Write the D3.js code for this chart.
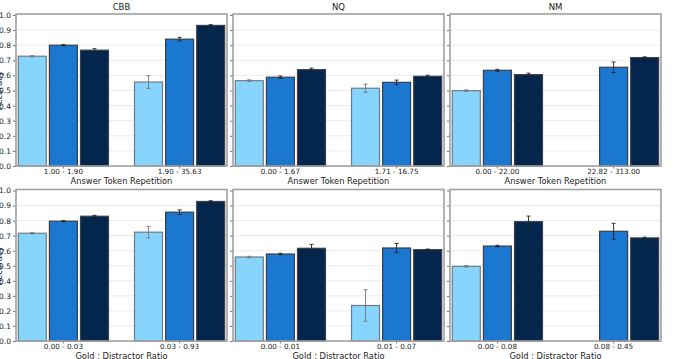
<!DOCTYPE html>
<html>
<head>
<meta charset="utf-8">
<script src="https://cdn.jsdelivr.net/npm/d3@7"></script>
<style>
  body { margin: 0; background: #fff; }
  text { font-family: "DejaVu Sans", sans-serif; fill: #222; }
</style>
</head>
<body>
<script>
// datasets (columns) and the two binning variables (rows)
var datasets = ["CBB", "NQ", "NM"];
var rowLabels = ["Answer Token Repetition", "Gold : Distractor Ratio"];
var series = ["s1", "s2", "s3"];
var colors = ["#87d4fd", "#1a78d0", "#04264c"];
var yTicks = [0, 0.1, 0.2, 0.3, 0.4, 0.5, 0.6, 0.7, 0.8, 0.9, 1.0];

// bin labels, per row then per dataset
var bins = [
  [["1.00 - 1.90", "1.90 - 35.63"], ["0.00 - 1.67", "1.71 - 16.75"], ["0.00 - 22.00", "22.82 - 313.00"]],
  [["0.00 - 0.03", "0.03 - 0.93"], ["0.00 - 0.01", "0.01 - 0.07"], ["0.00 - 0.08", "0.08 - 0.45"]]
];

// accuracy per row / dataset / bin / series
var acc = [
  [[[0.727, 0.800, 0.767], [0.556, 0.840, 0.931]],
   [[0.565, 0.588, 0.638], [0.515, 0.554, 0.594]],
   [[0.499, 0.634, 0.605], [0.0, 0.654, 0.718]]],
  [[[0.716, 0.796, 0.829], [0.723, 0.856, 0.927]],
   [[0.558, 0.578, 0.616], [0.236, 0.618, 0.607]],
   [[0.496, 0.631, 0.793], [0.0, 0.729, 0.685]]]
];

// error bar half widths (null = none)
var err = [
  [[[0.004, 0.004, 0.010], [0.042, 0.012, 0.005]],
   [[0.006, 0.008, 0.010], [0.027, 0.015, 0.007]],
   [[0.005, 0.006, 0.010], [null, 0.035, 0.005]]],
  [[[0.005, 0.004, 0.006], [0.038, 0.015, 0.005]],
   [[0.005, 0.005, 0.026], [0.105, 0.030, 0.004]],
   [[0.005, 0.005, 0.037], [null, 0.053, 0.005]]]
];

var width = 682, height = 359;
var panelW = 211, gap = 6, left0 = 16;
var rowTop = [15, 190.5], rowBottom = [166, 341];

var svg = d3.select("body").append("svg")
    .attr("width", width)
    .attr("height", height);

datasets.forEach(function(ds, c) {
  rowLabels.forEach(function(rl, r) {
    var x0 = left0 + c * (panelW + gap);
    var g = svg.append("g").attr("transform", "translate(" + x0 + ",0)");

    var y = d3.scaleLinear().domain([0, 1]).range([rowBottom[r], rowTop[r]]);
    var xb = d3.scaleBand().domain(bins[r][c]).range([0, panelW])
        .paddingInner(0.224).paddingOuter(0.02);
    var xs = d3.scaleBand().domain(series).range([0, xb.bandwidth()]).paddingInner(0.1);

    // grid
    g.selectAll(".grid").data(yTicks.slice(1, -1)).enter().append("line")
      .attr("x1", 0).attr("x2", panelW)
      .attr("y1", function(d) { return y(d); })
      .attr("y2", function(d) { return y(d); })
      .attr("stroke", "#ebebeb").attr("stroke-width", 1);

    // y axis ticks (labels only on first column)
    var yAxis = d3.axisLeft(y).tickValues(yTicks).tickSize(3).tickPadding(2)
        .tickFormat(c === 0 ? d3.format(".1f") : "");
    var ya = g.append("g").call(yAxis);
    ya.select(".domain").remove();
    ya.selectAll("line").attr("stroke", "#777");
    ya.selectAll("text").style("font-size", "7.5px").attr("fill", "#333");

    // bars
    bins[r][c].forEach(function(b, i) {
      var grp = g.append("g").attr("transform", "translate(" + xb(b) + ",0)");
      series.forEach(function(s, k) {
        var v = acc[r][c][i][k];
        grp.append("rect")
          .attr("x", xs(s))
          .attr("width", xs.bandwidth())
          .attr("y", y(v))
          .attr("height", y(0) - y(v))
          .attr("fill", colors[k])
          .attr("stroke", k === 0 ? "#6e7c88" : "#3a3f48")
          .attr("stroke-width", 1.2);
        var e = err[r][c][i][k];
        if (e != null) {
          var cx = xs(s) + xs.bandwidth() / 2;
          var col = k === 0 ? "#777" : "#222";
          grp.append("line").attr("x1", cx).attr("x2", cx)
            .attr("y1", y(v - e)).attr("y2", y(v + e))
            .attr("stroke", col).attr("stroke-width", 0.9);
          [v - e, v + e].forEach(function(t) {
            grp.append("line").attr("x1", cx - 2).attr("x2", cx + 2)
              .attr("y1", y(t)).attr("y2", y(t))
              .attr("stroke", col).attr("stroke-width", 0.9);
          });
        }
      });
    });

    // x axis
    var xa = g.append("g").attr("transform", "translate(0," + rowBottom[r] + ")")
      .call(d3.axisBottom(xb).tickSize(2.5).tickPadding(0.5));
    xa.select(".domain").remove();
    xa.selectAll("line").attr("stroke", "#777");
    xa.selectAll("text").style("font-size", "7.2px").attr("fill", "#333");

    // frame
    g.append("rect")
      .attr("x", 0).attr("y", rowTop[r] - 1)
      .attr("width", panelW).attr("height", rowBottom[r] - rowTop[r] + 1)
      .attr("fill", "none").attr("stroke", "#a0a0a0").attr("stroke-width", 1.6);

    // x label
    g.append("text")
      .attr("x", panelW / 2).attr("y", rowBottom[r] + 17.5)
      .attr("text-anchor", "middle")
      .style("font-size", "8.3px")
      .text(rl);

    if (r === 0) {
      g.append("text")
        .attr("x", panelW / 2).attr("y", 10)
        .attr("text-anchor", "middle")
        .style("font-size", "8.5px")
        .text(ds);
    }
  });
});

// y label, mostly cut off at the left edge as in the source figure
[0, 1].forEach(function(r) {
  svg.append("text")
    .attr("transform", "translate(2," + ((rowTop[r] + rowBottom[r]) / 2) + ") rotate(-90)")
    .attr("text-anchor", "middle")
    .style("font-size", "8.5px")
    .text("Accuracy");
});
</script>
</body>
</html>
